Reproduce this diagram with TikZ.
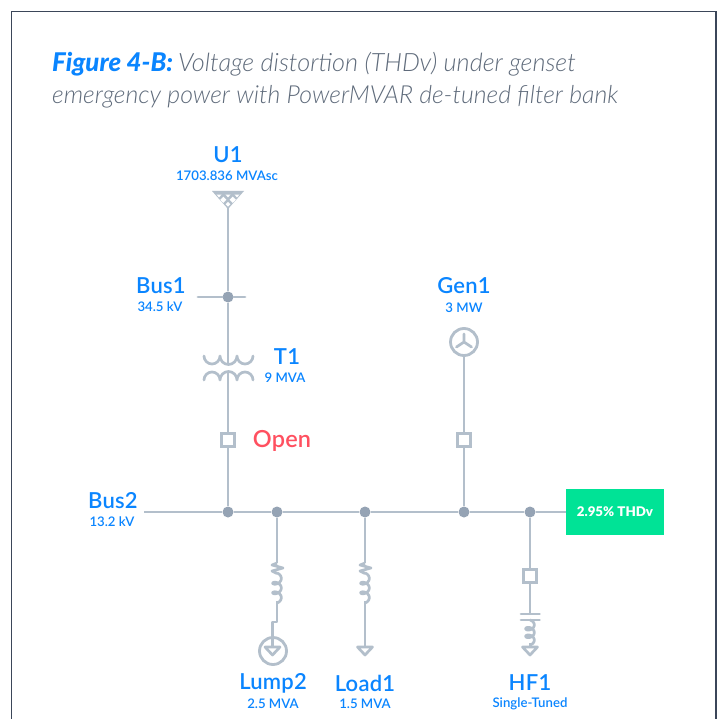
\documentclass[tikz,border=0pt]{standalone}
\usepackage{fontspec}
\setmainfont{Lato Semibold}
\newfontfamily\lightf{Lato Light}
\newfontfamily\heavyf{Lato Black}
\newfontfamily\semif{Lato Semibold}
\usetikzlibrary{calc}
\definecolor{wire}{HTML}{B3BFCB}
\definecolor{dotc}{HTML}{95A3B4}
\definecolor{blu}{HTML}{0A85FF}
\definecolor{frm}{HTML}{3B4659}
\definecolor{ttl}{HTML}{5F6B7B}
\definecolor{grn}{HTML}{00E396}
\definecolor{redt}{HTML}{FF5060}
\tikzset{
  wireline/.style={draw=wire,line width=2.8pt},
  thinw/.style={draw=wire,line width=2.7pt,line join=round},
  junction/.style={circle,fill=dotc,minimum size=11pt,inner sep=0pt},
  breaker/.style={rectangle,draw=wire,line width=2.8pt,fill=white,minimum size=13.5pt,inner sep=0pt},
  name label/.style={text=blu,font=\fontsize{22}{24}\selectfont\addfontfeature{LetterSpace=1},inner sep=0pt,anchor=center},
  sub label/.style={text=blu,font=\semif\fontsize{13.2}{15}\selectfont,inner sep=0pt,anchor=center},
  ring/.style={circle,draw=wire,line width=2.8pt,minimum size=27pt,inner sep=0pt,fill=white},
}
\newcommand{\coilpath}[3]{% x, y0, y1
  \draw[thinw,smooth] plot[domain=0:900,samples=60,variable=\t]
    ({#1+4.3*sin(\t)},{#2+(#3-#2)*(\t/900)+3*(1-cos(\t))});
}
\newcommand{\zigpath}[2]{% x, y0
  \draw[thinw] (#1,#2) -- (#1-5,#2+2) -- (#1+6,#2+5) -- (#1-5,#2+8) -- (#1,#2+10.5);
}
\newcommand{\loadtri}[1]{% top-centre
  \draw[thinw] ($(#1)+(-7.5,0)$) -- ($(#1)+(7.5,0)$) -- ($(#1)+(0,8)$) -- cycle;
}
\begin{document}
\begin{tikzpicture}[x=1pt,y=-1pt]
\useasboundingbox (0,0) rectangle (719,719);
\fill[white] (0,0) rectangle (719,719);
\draw[frm,line width=1.2pt] (11.5,725) -- (11.5,11.5) -- (716,11.5) -- (716,725);
% title
\node[anchor=base west,inner sep=0pt,text=blu] (title1a) at (52,72) {\fontsize{25.8}{28}\selectfont\heavyf\itshape Figure 4-B:};
\node[anchor=base west,inner sep=0pt,text=ttl] (title1b) at (178,72) {\fontsize{25.25}{28}\selectfont\lightf\itshape Voltage distortion (THDv) under genset};
\node[anchor=base west,inner sep=0pt,text=ttl] (title2) at (52,104) {\fontsize{24.85}{28}\selectfont\lightf\itshape emergency power with PowerMVAR de-tuned filter bank};
% junctions
\node[junction] (b1) at (228,297) {};
\node[junction] (j1) at (228,512) {};
\node[junction] (j2) at (277,512) {};
\node[junction] (j3) at (365,512) {};
\node[junction] (j4) at (464,512) {};
\node[junction] (j5) at (530,512) {};
% ends
\coordinate (busL) at (144,512);
\coordinate (b1L) at (198,297);
\coordinate (b1R) at (245,297);
\coordinate (u1a) at (228,208);
\coordinate (t1u) at (228,363);
\coordinate (t1l) at (228,373);
\node[breaker] (cb1) at (228,440) {};
\node[breaker] (cb2) at (464,440) {};
\node[breaker] (cb3) at (530,576) {};
\node[ring] (gen) at (464,342) {};
\node[ring] (lump) at (273,651) {};
\node[inner sep=0pt,fill=grn,minimum width=98pt,minimum height=46pt,text=white,font=\heavyf\fontsize{13.3}{15}\selectfont] (thd) at (615,512) {2.95\% THDv};
% bus
\draw[wireline] (busL) -- (j1);
\draw[wireline] (j1) -- (j2);
\draw[wireline] (j2) -- (j3);
\draw[wireline] (j3) -- (j4);
\draw[wireline] (j4) -- (j5);
\draw[wireline] (j5) -- (thd);
\draw[wireline,line cap=round] (b1L) -- (b1);
\draw[wireline,line cap=round] (b1) -- (b1R);
% U1 source
\draw[wireline] (u1a) -- (b1);
\fill[wire] (212,191) -- (244,191) -- (228,209) -- cycle;
\foreach \cx in {219,228,237}{
  \fill[white] (\cx-2.6,194.6) -- (\cx+2.6,194.6) -- (\cx,197.3) -- cycle;
}
\foreach \cx/\cy/\r in {223.3/199.8/3.1,232.7/199.8/3.1,228/204.2/2.4}{
  \fill[white] (\cx,\cy-\r) -- (\cx+\r,\cy) -- (\cx,\cy+\r) -- (\cx-\r,\cy) -- cycle;
}
% T1
\draw[wireline] (b1) -- (t1u);
\draw[thinw,line cap=round] (204,356) arc[start angle=180,end angle=0,radius=8] arc[start angle=180,end angle=0,radius=8.5] arc[start angle=180,end angle=0,radius=8];
\draw[thinw,line cap=round] (204,380) arc[start angle=180,end angle=360,radius=8] arc[start angle=180,end angle=360,radius=8.5] arc[start angle=180,end angle=360,radius=8];
\draw[wireline] (t1l) -- (cb1);
\draw[wireline] (cb1) -- (j1);
% Gen1
\draw[wireline] (gen) -- (cb2);
\draw[wireline] (cb2) -- (j4);
\draw[thinw,line cap=round] (464,342) -- (464,334) (464,342) -- (456.5,347) (464,342) -- (471.5,347);
% Lump2
\coordinate (l2a) at (277,563);
\draw[wireline] (j2) -- (l2a);
\zigpath{277}{563}
\coilpath{277}{573}{597}
\coordinate (l2b) at (277,601);
\coordinate (l2c) at (277,622);
\coordinate (l2d) at (272.5,622);
\coordinate (l2t) at (272.5,647);
\draw[thinw] (l2b) -- (l2c) -- (l2d) -- (l2t);
\loadtri{l2t}
% Load1
\coordinate (l1a) at (365,563);
\draw[wireline] (j3) -- (l1a);
\zigpath{365}{563}
\coilpath{365}{573}{597}
\coordinate (l1b) at (365,601);
\coordinate (l1t) at (365,647);
\draw[thinw] (l1b) -- (l1t);
\loadtri{l1t}
% HF1
\coordinate (hfc) at (530,614);
\draw[wireline] (j5) -- (cb3);
\draw[wireline] (cb3) -- (hfc);
\draw[thinw,line cap=round] (521,614) -- (539.5,614);
\draw[thinw,line cap=round] (521,620) -- (539.5,620);
\coilpath{530}{620}{639}
\coordinate (hft) at (530,647);
\draw[thinw] (530,643) -- (hft);
\loadtri{hft}
% labels
\node[name label] (lu1) at (228,155) {U1};
\node[sub label] (su1) at (227,176) {1703.836 MVAsc};
\node[name label] (lb1) at (161,286) {Bus1};
\node[sub label] (sb1) at (160,307) {34.5 kV};
\node[name label] (lt1) at (287,357) {T1};
\node[sub label] (st1) at (285,378) {9 MVA};
\node[text=redt,font=\fontsize{23.5}{24}\selectfont\addfontfeature{LetterSpace=1},inner sep=0pt] (lop) at (282,441) {Open};
\node[name label] (lb2) at (113,501) {Bus2};
\node[sub label] (sb2) at (112,522) {13.2 kV};
\node[name label] (lg1) at (464,286) {Gen1};
\node[sub label] (sg1) at (464,308) {3 MW};
\node[name label] (ll2) at (273,683) {Lump2};
\node[sub label] (sl2) at (273,704) {2.5 MVA};
\node[name label] (ll1) at (365,683) {Load1};
\node[sub label] (sl1) at (365,704) {1.5 MVA};
\node[name label] (lh1) at (530,683) {HF1};
\node[sub label] (sh1) at (530,704) {Single-Tuned};
\end{tikzpicture}
\end{document}
